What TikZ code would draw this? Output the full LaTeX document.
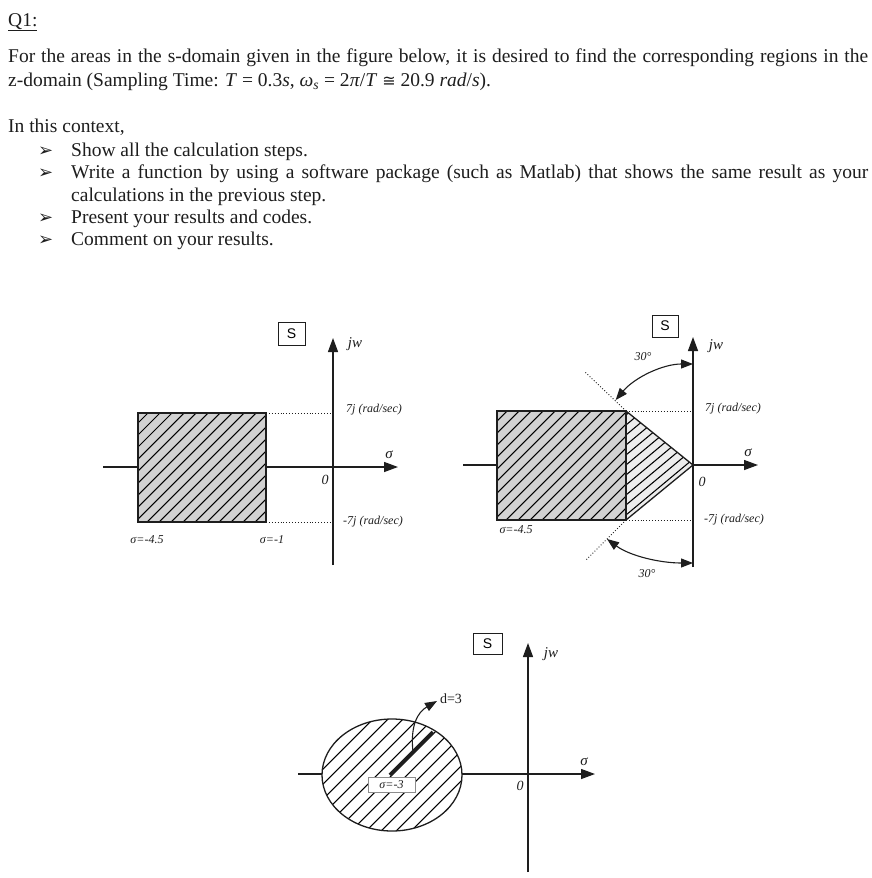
\documentclass[tikz,border=0pt]{standalone}
\usepackage{fontspec}
\setmainfont{Liberation Serif}
\newfontfamily\arialf{Liberation Sans}
\newfontfamily\dejavuf{DejaVu Sans}
\usetikzlibrary{arrows.meta}
\definecolor{inkc}{HTML}{1E1E1E}
\definecolor{rectgray}{HTML}{D2D2D2}
\definecolor{trigray}{HTML}{EDEDED}
\tikzset{
  body/.style={anchor=base west, inner sep=0pt, text=inkc, text height=13pt, text depth=4pt, font=\fontsize{19.5}{22}\selectfont},
  bulletmark/.style={anchor=base west, inner sep=0pt, text=inkc, font=\dejavuf\fontsize{18}{18}\selectfont},
  axisarrow/.style={line width=1.3pt, draw=inkc, -{Triangle[length=14pt,width=10pt]}},
  regionline/.style={line width=1.3pt, draw=inkc},
  hatchline/.style={line width=1.05pt, draw=black},
  guide/.style={dotted, line width=0.9pt, draw=inkc},
  anglearrow/.style={line width=1.1pt, draw=inkc, {Triangle[length=12pt,width=9pt]}-{Triangle[length=12pt,width=9pt]}},
  sbox/.style={draw=inkc, line width=1pt, font=\arialf\fontsize{14}{14}\selectfont, inner sep=0pt},
  lab/.style={inner sep=0pt, text=inkc, font=\itshape\fontsize{12}{12}\selectfont},
  axlab/.style={inner sep=0pt, text=inkc, font=\itshape\fontsize{15}{15}\selectfont},
}
\begin{document}
\begin{tikzpicture}[x=1pt,y=-1pt]
\useasboundingbox (0,0) rectangle (872,878);
\fill[white] (0,0) rectangle (872,878);

% ---------- text ----------
\node[body] (q1) at (8,26) {\underline{Q1:}};
\node[body] (l1) at (8,62) {\makebox[860pt][s]{For the areas in the s-domain given in the figure below, it is desired to find the corresponding regions in the}};
\node[body] (l2) at (8,86) {z-domain (Sampling Time: \textit{T} = 0.3\textit{s}, \textit{ω}\textsubscript{\textit{s}} = 2\textit{π}/\textit{T} {\dejavuf\fontsize{16}{16}\selectfont ≅} 20.9 \textit{rad}/\textit{s}).};
\node[body] (l3) at (8,132) {In this context,};
\node[bulletmark] (b1) at (38,156) {➢};
\node[body] (t1) at (71,156) {Show all the calculation steps.};
\node[bulletmark] (b2) at (38,178) {➢};
\node[body] (t2) at (71,178) {\makebox[797pt][s]{Write a function by using a software package (such as Matlab) that shows the same result as your}};
\node[body] (t2b) at (71,201) {calculations in the previous step.};
\node[bulletmark] (b3) at (38,223) {➢};
\node[body] (t3) at (71,223) {Present your results and codes.};
\node[bulletmark] (b4) at (38,245) {➢};
\node[body] (t4) at (71,245) {Comment on your results.};

% ---------- figure 1 ----------
\coordinate (o1) at (333,467);
\coordinate (h1a) at (103,467);
\coordinate (h1b) at (398,467);
\coordinate (v1a) at (333,565);
\coordinate (v1b) at (333,338);
\coordinate (r1bl) at (138,522);
\coordinate (r1tr) at (266,413);
\coordinate (r1br) at (266,522);
\draw[axisarrow] (h1a) -- (h1b);
\draw[axisarrow] (v1a) -- (v1b);
\fill[rectgray] (r1bl) rectangle (r1tr);
\begin{scope}
  \clip (r1bl) rectangle (r1tr);
  \foreach \k in {-16,...,16} \draw[hatchline] ({202+\k*12-150},{467+150}) -- ++(300,-300);
\end{scope}
\draw[regionline] (r1bl) rectangle (r1tr);
\draw[guide] (r1tr) -- (r1tr -| o1);
\draw[guide] (r1br) -- (r1br -| o1);
\node[sbox, minimum width=27pt, minimum height=23pt] (s1) at (291.5,333.5) {S};
\node[axlab] (jw1) at (355,344) {jw};
\node[axlab] (sg1) at (389,455) {σ};
\node[axlab, font=\itshape\fontsize{14}{14}\selectfont] (z1) at (325,480) {0};
\node[lab] (p1) at (374,410) {7j (rad/sec)};
\node[lab] (m1) at (373,522) {-7j (rad/sec)};
\node[lab] (a1) at (147,540) {σ=-4.5};
\node[lab] (c1) at (272,540) {σ=-1};

% ---------- figure 2 ----------
\coordinate (o2) at (693,465);
\coordinate (h2a) at (463,465);
\coordinate (h2b) at (758,465);
\coordinate (v2a) at (693,567);
\coordinate (v2b) at (693,337);
\coordinate (r2bl) at (497,520);
\coordinate (r2tr) at (626,411);
\coordinate (r2br) at (626,520);
\coordinate (e2t) at (585,372);
\coordinate (e2b) at (585,561);
\draw[axisarrow] (h2a) -- (h2b);
\draw[axisarrow] (v2a) -- (v2b);
\fill[rectgray] (r2bl) rectangle (r2tr);
\begin{scope}
  \clip (r2bl) rectangle (r2tr);
  \foreach \k in {-16,...,16} \draw[hatchline] ({561+\k*12-150},{465+150}) -- ++(300,-300);
\end{scope}
\fill[trigray] (r2tr) -- (o2) -- (r2br) -- cycle;
\begin{scope}
  \clip (r2tr) -- (o2) -- (r2br) -- cycle;
  \foreach \k in {-10,...,10} \draw[hatchline] ({650+\k*12-150},{465+125}) -- ++(300,-250);
\end{scope}
\draw[regionline] (r2bl) rectangle (r2tr);
\draw[regionline] (r2tr) -- (o2) -- (r2br);
\draw[guide] (r2tr) -- (r2tr -| o2);
\draw[guide] (r2br) -- (r2br -| o2);
\draw[guide] (r2tr) -- (e2t);
\draw[guide] (r2br) -- (e2b);
\draw[anglearrow] (693,364) arc[start angle=-90, end angle=-140, radius=101];
\draw[anglearrow] (607,539) .. controls (630,556) and (660,563) .. (693,563);
\node[sbox, minimum width=26pt, minimum height=22pt] (s2) at (665,326) {S};
\node[axlab] (jw2) at (716,346) {jw};
\node[axlab] (sg2) at (748,453) {σ};
\node[axlab, font=\itshape\fontsize{14}{14}\selectfont] (z2) at (702,482) {0};
\node[lab] (p2) at (733,409) {7j (rad/sec)};
\node[lab] (m2) at (734,520) {-7j (rad/sec)};
\node[lab] (a2) at (516,530) {σ=-4.5};
\node[lab] (ang1) at (643,357) {30°};
\node[lab] (ang2) at (647,574) {30°};

% ---------- figure 3 ----------
\coordinate (o3) at (528,774);
\coordinate (h3a) at (298,774);
\coordinate (h3b) at (595,774);
\coordinate (v3a) at (528,872);
\coordinate (v3b) at (528,643);
\coordinate (c3) at (392,775);
\coordinate (d3a) at (390,775);
\coordinate (d3b) at (433,732);
\coordinate (d3s) at (413,752);
\coordinate (d3e) at (437,701);
\draw[axisarrow] (h3a) -- (h3b);
\draw[axisarrow] (v3a) -- (v3b);
\fill[white] (c3) ellipse [x radius=70, y radius=56];
\begin{scope}
  \clip (c3) ellipse [x radius=70, y radius=56];
  \foreach \k in {-16,...,16} \draw[hatchline] ({392+\k*15-150},{775+150}) -- ++(300,-300);
\end{scope}
\draw[regionline] (c3) ellipse [x radius=70, y radius=56];
\draw[line width=3.8pt, draw=inkc] (d3a) -- (d3b);
\draw[line width=1.1pt, draw=inkc, -{Triangle[length=12pt,width=9pt]}] (d3s) .. controls (410,725) and (418,712) .. (d3e);
\node[draw=black!45, fill=white, line width=0.8pt, minimum width=47pt, minimum height=15pt, inner sep=0pt, font=\itshape\fontsize{12}{12}\selectfont, text=inkc] (sig3) at (391.5,784.5) {σ=-3};
\node[inner sep=0pt, text=inkc, font=\fontsize{14}{14}\selectfont] (dl) at (451,699) {d=3};
\node[sbox, minimum width=29pt, minimum height=21pt] (s3) at (487.5,643.5) {S};
\node[axlab] (jw3) at (551,654) {jw};
\node[axlab] (sg3) at (584,762) {σ};
\node[axlab, font=\itshape\fontsize{14}{14}\selectfont] (z3) at (520,786) {0};
\end{tikzpicture}
\end{document}
